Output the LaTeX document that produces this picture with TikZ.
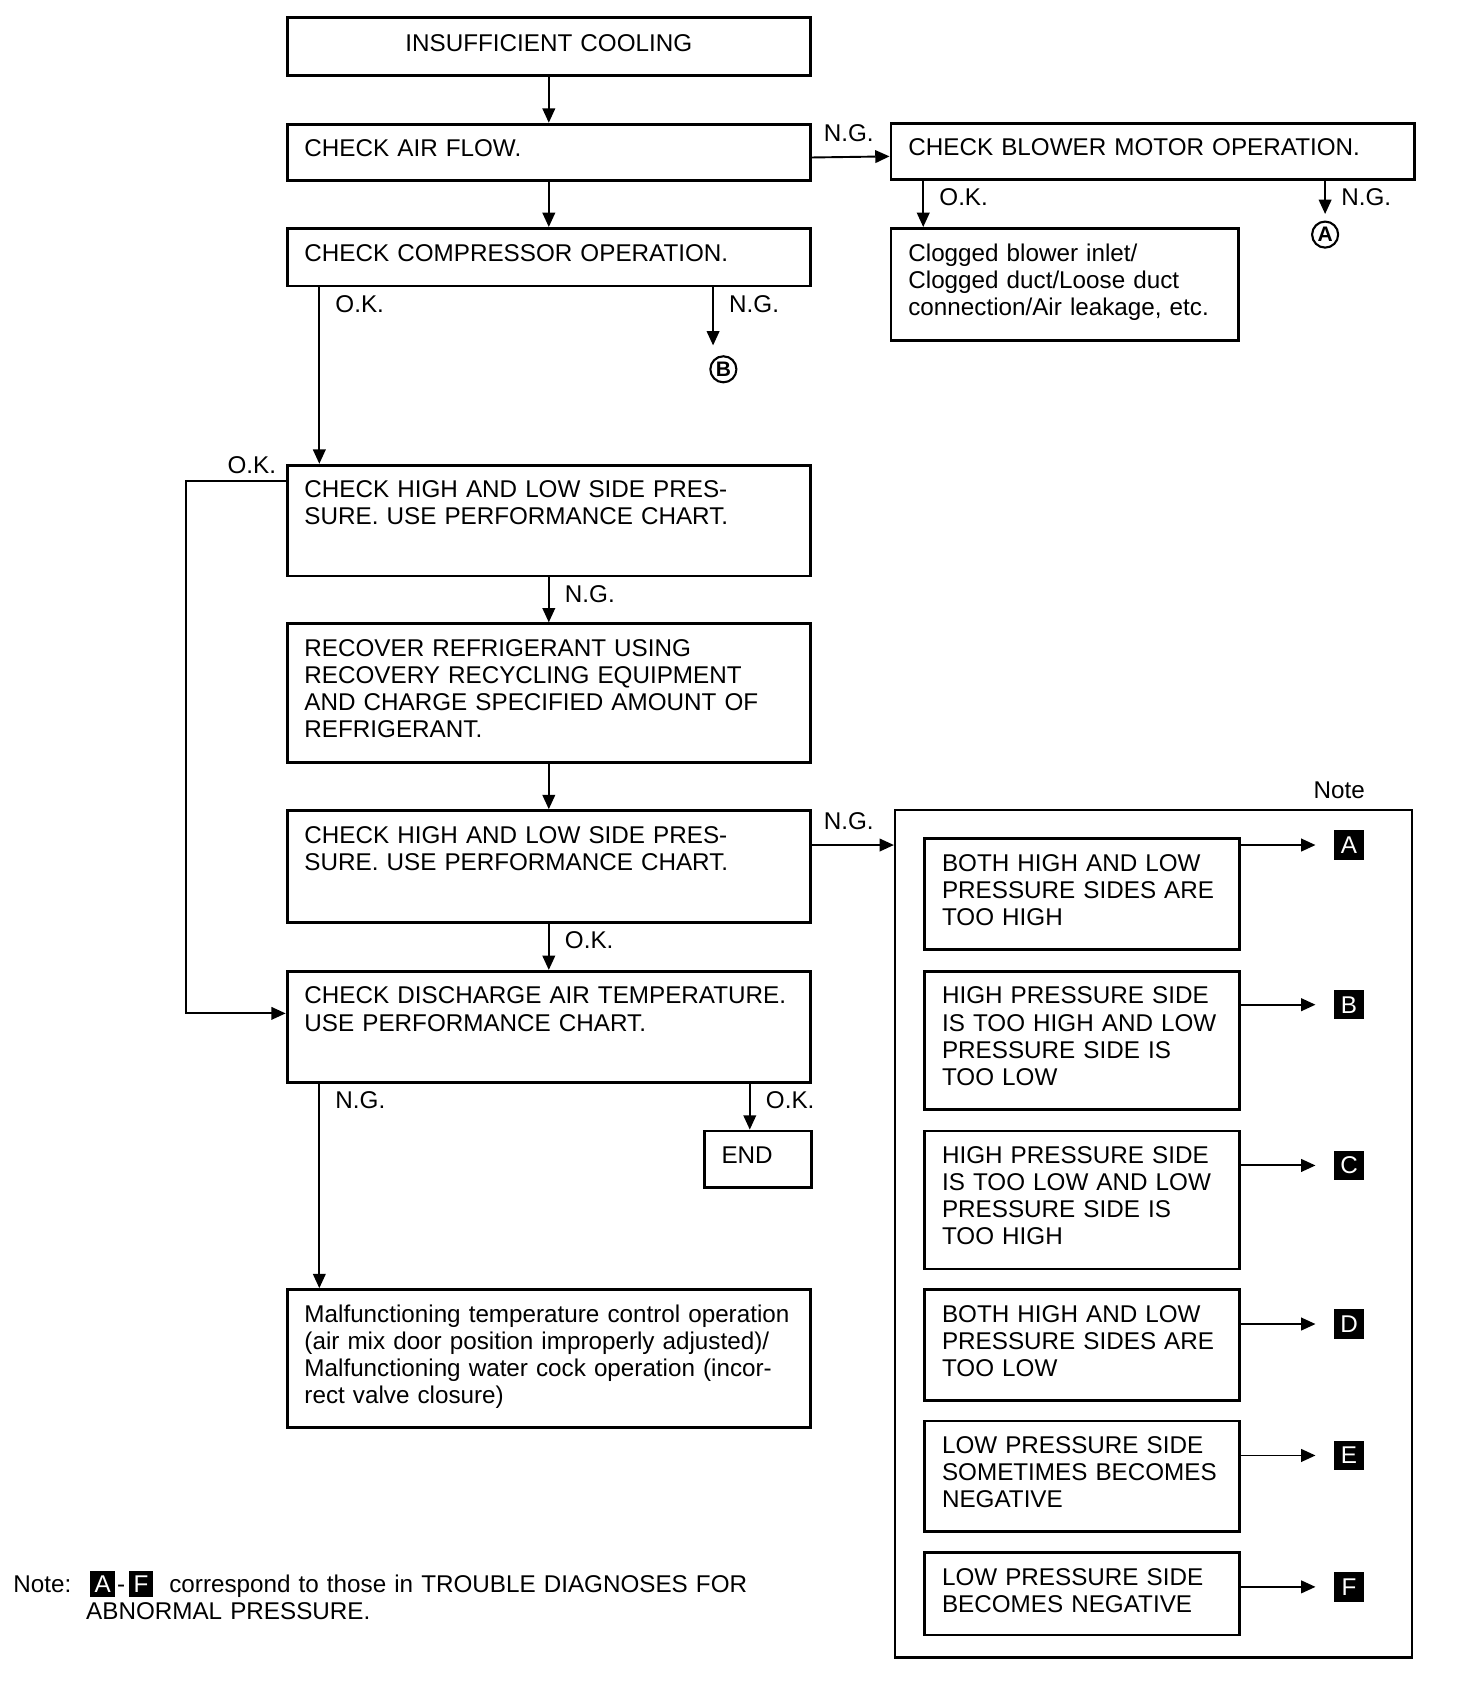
\documentclass[tikz,border=0pt]{standalone}
\usepackage{fontspec}
\setmainfont{Liberation Sans}
\usetikzlibrary{positioning,arrows.meta}

\newcommand{\keysq}[1]{{\setlength{\fboxsep}{2.4pt}\colorbox{black}{\textcolor{white}{#1}}}}

\begin{document}
\begin{tikzpicture} [
	x=0.02cm,y=-0.02cm,
	font=\fontsize{12.7}{14.2}\selectfont,
	chk/.style={
		rectangle,draw,line width=1.5pt,
		anchor=north west,align=left,
		inner xsep=0.32cm,inner ysep=0pt,
		text width=9cm,text height=0.6cm},
	cause/.style={
		chk,text width=5.16cm},
	notefr/.style={
		rectangle,draw,line width=1.2pt,anchor=north west},
	circ/.style={
		circle,draw,line width=1.1pt,inner sep=0pt,
		minimum size=0.48cm,font=\fontsize{11}{11}\selectfont\bfseries},
	keybox/.style={
		rectangle,fill=black,text=white,inner sep=0pt,
		minimum size=0.54cm},
	vlbl/.style={
		anchor=base west,inner sep=0pt,xshift=0.28cm,yshift=-0.46cm},
	hlbl/.style={
		anchor=base west,inner sep=0pt,xshift=0.2cm,yshift=0.29cm},
	tip/.style={
		-{Triangle[length=7.5pt,width=6.6pt]},line width=1pt}]
\useasboundingbox (0,0) rectangle (1341,1567);

% main column
\node [chk,align=center,text height=0.62cm,text depth=0.44cm] (cool) at (263,15) {INSUFFICIENT COOLING};
\node [chk,text depth=0.44cm] (airflow) at (263,113) {CHECK AIR FLOW.};
\node [chk,text depth=0.46cm] (comp) at (263,209) {CHECK COMPRESSOR OPERATION.};
\node [chk,text depth=1.44cm] (press1) at (263,427) {CHECK HIGH AND LOW SIDE PRES-\\SURE. USE PERFORMANCE CHART.};
\node [chk,text depth=1.96cm] (recover) at (263,573) {RECOVER REFRIGERANT USING\\RECOVERY RECYCLING EQUIPMENT\\AND CHARGE SPECIFIED AMOUNT OF\\REFRIGERANT.};
\node [chk,text depth=1.46cm] (press2) at (263,745) {CHECK HIGH AND LOW SIDE PRES-\\SURE. USE PERFORMANCE CHART.};
\node [chk,text depth=1.44cm] (disch) at (263,893) {CHECK DISCHARGE AIR TEMPERATURE.\\USE PERFORMANCE CHART.};
\node [chk,text width=1.34cm,text depth=0.44cm] (endbox) at (647,1040) {END};
\node [chk,text depth=1.94cm] (malf) at (263,1186) {Malfunctioning temperature control operation\\(air mix door position improperly adjusted)/\\Malfunctioning water cock operation (incor-\\rect valve closure)};

% blower branch
\node [chk,text depth=0.44cm] (blower) at (819,112) {CHECK BLOWER MOTOR OPERATION.};
\node [chk,text width=5.76cm,text depth=1.46cm] (clog) at (819,209) {Clogged blower inlet/\\Clogged duct/Loose duct\\connection/Air leakage, etc.};
\node [circ] (circA) at (1220,216) {A};
\node [circ] (circB) at (666,340) {B};

% note panel
\node [notefr,minimum width=9.52cm,minimum height=15.6cm] (notebox) at (823,745) {};
\node [anchor=base] (notehdr) at (1233,735) {Note};
\node [cause,text depth=1.44cm] (hh) at (850,771) {BOTH HIGH AND LOW\\PRESSURE SIDES ARE\\TOO HIGH};
\node [cause,text depth=1.94cm] (hl) at (850,893) {HIGH PRESSURE SIDE\\IS TOO HIGH AND LOW\\PRESSURE SIDE IS\\TOO LOW};
\node [cause,text depth=1.94cm] (lh) at (850,1040) {HIGH PRESSURE SIDE\\IS TOO LOW AND LOW\\PRESSURE SIDE IS\\TOO HIGH};
\node [cause,text depth=1.44cm] (ll) at (850,1186) {BOTH HIGH AND LOW\\PRESSURE SIDES ARE\\TOO LOW};
\node [cause,text depth=1.44cm] (neg1) at (850,1307) {LOW PRESSURE SIDE\\SOMETIMES BECOMES\\NEGATIVE};
\node [cause,text depth=0.92cm] (neg2) at (850,1428) {LOW PRESSURE SIDE\\BECOMES NEGATIVE};
\node [keybox] (keyA) at (1242,778) {A};
\node [keybox] (keyB) at (1242,925) {B};
\node [keybox] (keyC) at (1242,1073) {C};
\node [keybox] (keyD) at (1242,1219) {D};
\node [keybox] (keyE) at (1242,1340) {E};
\node [keybox] (keyF) at (1242,1461) {F};

% footnote
\node [anchor=base west,inner sep=0pt] (notelbl) at (12,1466) {Note:};
\node [anchor=base west,align=left,text width=13cm,inner sep=0pt] (notetxt) at (79,1466) {\hspace{2pt}\keysq{A}\hspace{1pt}-\hspace{2pt}\keysq{F}\hspace{0.3cm}correspond to those in TROUBLE DIAGNOSES FOR\\ABNORMAL PRESSURE.};

% connectors
\coordinate (bstub) at ([xshift=-0.19cm,yshift=0.18cm]circB.north);
\coordinate (endstub) at ([xshift=-0.15cm]endbox.north);
\draw[tip] (cool.south) -- (airflow.north);
\draw[tip] (airflow.south) -- (comp.north);
\draw[tip] ([yshift=-0.64cm]airflow.north east) -- ([yshift=-0.64cm]blower.north west) node[hlbl,pos=0] {N.G.};
\draw[tip] ([xshift=0.62cm]blower.south west) -- ([xshift=0.62cm]clog.north west) node[vlbl,pos=0] {O.K.};
\draw[tip,shorten >=0.12cm] (blower.south -| circA) -- (circA) node[vlbl,pos=0] {N.G.};
\draw[tip] ([xshift=0.62cm]comp.south west) -- ([xshift=0.62cm]press1.north west) node[vlbl,pos=0] {O.K.};
\draw[tip] (comp.south -| bstub) -- (bstub) node[vlbl,pos=0] {N.G.};
\draw[tip] ([yshift=-0.32cm]press1.north west) -- node[anchor=base east,inner sep=0pt,pos=0,xshift=-0.16cm,yshift=0.15cm] {O.K.} ++(-92,0) |- ([yshift=-0.8cm]disch.north west);
\draw[tip] (press1.south) -- (recover.north) node[vlbl,pos=0] {N.G.};
\draw[tip] (recover.south) -- (press2.north);
\draw[tip] ([yshift=-0.66cm]press2.north east) -- ([yshift=-0.66cm]notebox.north west) node[hlbl,pos=0] {N.G.};
\draw[tip] (press2.south) -- (disch.north) node[vlbl,pos=0] {O.K.};
\draw[tip] ([xshift=0.62cm]disch.south west) -- ([xshift=0.62cm]malf.north west) node[vlbl,pos=0] {N.G.};
\draw[tip] (disch.south -| endstub) -- (endstub) node[vlbl,pos=0] {O.K.};
\foreach \src/\dst in {hh/keyA,hl/keyB,lh/keyC,ll/keyD,neg1/keyE,neg2/keyF}
	\draw[tip,shorten >=0.34cm] (\src.east |- \dst) -- (\dst);
\end{tikzpicture}
\end{document}
